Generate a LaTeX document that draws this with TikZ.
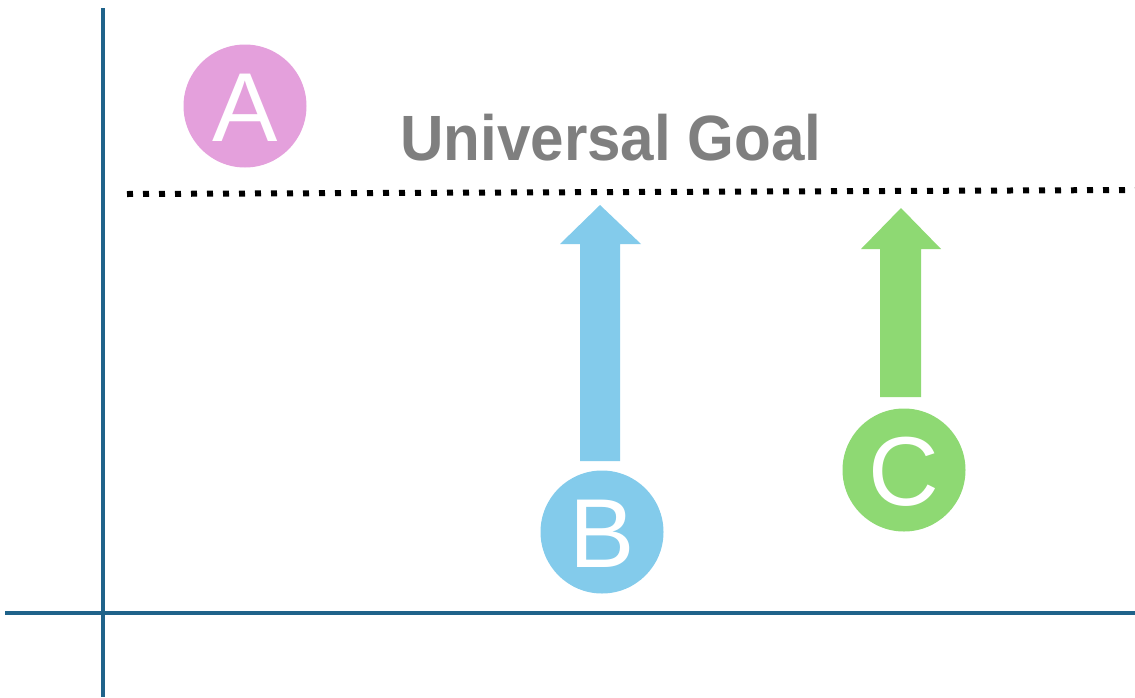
\documentclass[tikz,border=0pt]{standalone}
\usepackage{fontspec}
\setmainfont{Liberation Sans}
\definecolor{axisblue}{RGB}{31,99,138}
\definecolor{pinkA}{RGB}{228,160,220}
\definecolor{blueB}{RGB}{131,203,235}
\definecolor{greenC}{RGB}{142,217,115}
\definecolor{goalgrey}{RGB}{127,127,127}
\begin{document}
\begin{tikzpicture}[x=1pt,y=-1pt,
  axisline/.style={draw=axisblue,line width=4pt},
  disc/.style={circle,minimum size=123pt,inner sep=0pt},
  letter/.style={anchor=base,text=white,inner sep=0pt,font=\fontsize{98}{98}\selectfont},
  goalline/.style={draw=black,line width=6pt,dash pattern=on 6pt off 10pt},
  bigarrow/.style={draw=none}]
\useasboundingbox (0,0) rectangle (1135,697);
% axes
\coordinate (vtop) at (103,8);
\coordinate (vbot) at (103,697);
\coordinate (hl) at (5,613);
\coordinate (hr) at (1135,613);
\draw[axisline] (vtop) -- (vbot);
\draw[axisline] (hl) -- (hr);
% goal line
\coordinate (gl) at (127,194);
\coordinate (gr) at (1135,190);
\draw[goalline] (gl) -- (gr);
% title
\node[anchor=base west,inner sep=0pt,text=goalgrey,font=\fontsize{64}{64}\selectfont\bfseries] (goal) at (400,160) {\scalebox{0.94}[1]{Universal Goal}};
% circles
\node[disc,fill=pinkA] (A) at (245,106) {};
\node[letter] (Al) at (245,141) {A};
\node[disc,fill=blueB] (B) at (602,532) {};
\node[letter] (Bl) at (602,567) {B};
\node[disc,fill=greenC] (C) at (904,470) {};
\node[letter] (Cl) at (904,505) {C};
% arrows
\fill[blueB] (580,461) -- (580,244) -- (560,244) -- (600,205) -- (641,244) -- (620,244) -- (620,461) -- cycle;
\fill[greenC] (880,397) -- (880,249) -- (861,249) -- (901,208) -- (941,249) -- (921,249) -- (921,397) -- cycle;
\end{tikzpicture}
\end{document}
